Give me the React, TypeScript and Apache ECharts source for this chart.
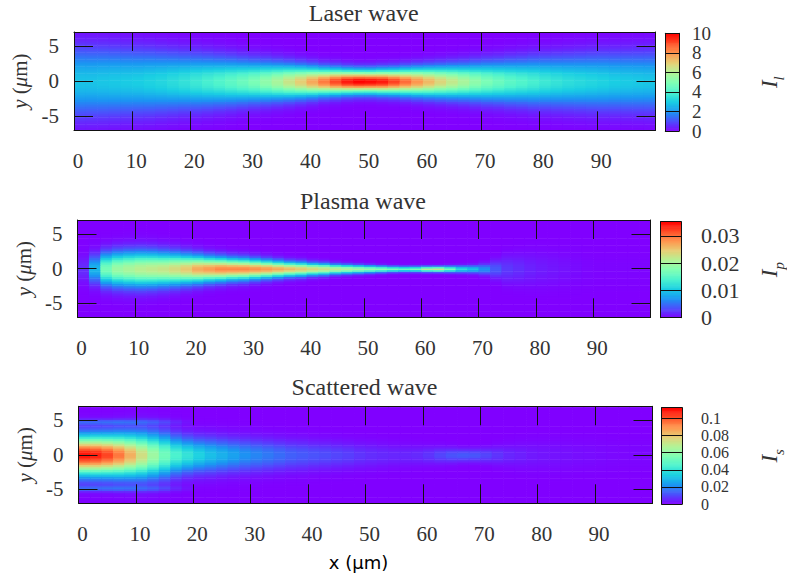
import React, { useEffect, useRef } from "react";
import * as echarts from "echarts";

// ---------- data ----------
const COL_W = 2; // μm width of one sampled column (columns start at 0, 2, 4, ... 98)
const ROW_H = 0.25; // μm height of one row
const ROW_HALF = 28; // rows at y = -7 ... 7

const titles = ["Laser wave", "Plasma wave", "Scattered wave"];
const xTickLabels = [0, 10, 20, 30, 40, 50, 60, 70, 80, 90];
const yTickValues = [-5, 0, 5];

// laser intensity on axis and 1/e half width (μm), per column
const laserPeak = [
  2.8, 2.8, 2.85, 2.9, 2.95, 3.0, 3.1, 3.2, 3.35, 3.5,
  3.7, 3.9, 4.1, 4.35, 4.6, 4.9, 5.3, 5.8, 6.4, 7.0,
  7.7, 8.4, 9.1, 9.7, 10.0, 9.9, 9.7, 9.2, 8.6, 8.0,
  7.4, 6.8, 6.3, 5.8, 5.3, 4.9, 4.6, 4.3, 4.1, 3.9,
  3.7, 3.55, 3.4, 3.3, 3.2, 3.1, 3.0, 2.95, 2.9, 2.85,
];
const laserRadius = [
  4.5, 4.45, 4.4, 4.3, 4.2, 4.1, 4.0, 3.85, 3.7, 3.55,
  3.4, 3.25, 3.1, 2.95, 2.8, 2.65, 2.5, 2.35, 2.2, 2.05,
  1.9, 1.75, 1.65, 1.55, 1.5, 1.5, 1.55, 1.6, 1.7, 1.8,
  1.9, 2.0, 2.1, 2.2, 2.35, 2.5, 2.6, 2.75, 2.85, 3.0,
  3.1, 3.2, 3.3, 3.4, 3.5, 3.6, 3.65, 3.7, 3.75, 3.8,
];

// plasma wave
const plasmaPeak = [
  0.002, 0.009, 0.017, 0.0195, 0.0205, 0.0215, 0.022, 0.0225, 0.0235, 0.025,
  0.027, 0.028, 0.029, 0.029, 0.029, 0.0285, 0.028, 0.027, 0.026, 0.025,
  0.024, 0.023, 0.022, 0.021, 0.02, 0.019, 0.018, 0.017, 0.016, 0.017,
  0.021, 0.022, 0.017, 0.012, 0.01, 0.007, 0.004, 0.0025, 0.002, 0.0015,
  0.0012, 0.001, 0.0008, 0.0005, 0.0003, 0.0002, 0.0002, 0.0002, 0.0002, 0.0002,
];
const plasmaRadius = [
  1.8, 1.9, 2.15, 2.25, 2.3, 2.3, 2.25, 2.15, 2.05, 1.9,
  1.75, 1.6, 1.5, 1.4, 1.35, 1.25, 1.15, 1.05, 0.95, 0.9,
  0.8, 0.75, 0.65, 0.6, 0.55, 0.5, 0.45, 0.4, 0.38, 0.38,
  0.38, 0.38, 0.42, 0.47, 0.52, 0.7, 1.2, 1.8, 2.0, 2.2,
  2.3, 2.3, 2.3, 2.3, 2.3, 2.3, 2.3, 2.3, 2.3, 2.3,
];

// scattered wave
const scatterPeak = [
  0.11, 0.108, 0.103, 0.095, 0.085, 0.074, 0.063, 0.053, 0.045, 0.04,
  0.035, 0.031, 0.028, 0.025, 0.022, 0.02, 0.018, 0.016, 0.014, 0.013,
  0.012, 0.011, 0.01, 0.009, 0.0075, 0.0065, 0.006, 0.0055, 0.0055, 0.006,
  0.0075, 0.01, 0.012, 0.013, 0.0125, 0.01, 0.0075, 0.0055, 0.0045, 0.0035,
  0.003, 0.0027, 0.0024, 0.002, 0.0018, 0.0015, 0.0012, 0.001, 0.001, 0.001,
];
const scatterRadius = [
  2.6, 2.65, 2.7, 2.8, 2.9, 3.0, 3.0, 2.9, 2.6, 2.4,
  2.3, 2.3, 2.25, 2.2, 2.2, 2.15, 2.1, 2.05, 2.0, 2.0,
  1.9, 1.85, 1.8, 1.75, 1.7, 1.7, 1.6, 1.5, 1.4, 1.3,
  1.2, 1.1, 1.0, 0.9, 0.9, 1.0, 1.2, 1.4, 1.6, 1.8,
  1.9, 2.0, 2.0, 2.0, 2.0, 2.0, 2.0, 2.0, 2.0, 2.0,
];
// faint side lobes of the scattered wave at |y| = LOBE_Y
const scatterLobe = [
  0.012, 0.012, 0.012, 0.012, 0.011, 0.01, 0.009, 0.007, 0.004, 0.002,
  0, 0, 0, 0, 0, 0, 0, 0, 0, 0,
  0, 0, 0, 0, 0, 0, 0, 0, 0, 0,
  0, 0, 0, 0, 0, 0, 0, 0, 0, 0,
  0, 0, 0, 0, 0, 0, 0, 0, 0, 0,
];
const LOBE_Y = 4.8;
const LOBE_R = 0.4;

// colour bars
const laserMax = 10;
const plasmaMax = 0.0352;
const scatterMax = 0.1125;
const laserTicks = [0, 2, 4, 6, 8, 10];
const plasmaTicks = [0, 0.01, 0.02, 0.03];
const scatterTicks = [0, 0.02, 0.04, 0.06, 0.08, 0.1];
const cbNames = ["l", "p", "s"];

// matplotlib "rainbow"
const rainbow = [
  "#8000ff", "#4d4ffc", "#1a96f2", "#1acee3", "#4df3ce", "#80ffb4",
  "#b3f396", "#e6ce74", "#ff964f", "#ff4f28", "#ff0000",
];

// ---------- helpers ----------
function buildField(peak: number[], radius: number[], lobe?: number[]) {
  const cells: number[][] = [];
  peak.forEach((a, i) => {
    const x0 = i * COL_W;
    const r = radius[i];
    for (let k = -ROW_HALF; k <= ROW_HALF; k++) {
      const y = k * ROW_H;
      let v = a * Math.exp(-((y / r) ** 2));
      if (lobe) v += lobe[i] * Math.exp(-(((Math.abs(y) - LOBE_Y) / LOBE_R) ** 2));
      cells.push([x0, y, v]);
    }
  });
  return cells;
}

const CB_STEPS = 200;
function buildBar(max: number) {
  const out: number[][] = [];
  for (let i = 0; i < CB_STEPS; i++) {
    const lo = (i * max) / CB_STEPS;
    out.push([0, lo, lo + max / CB_STEPS / 2]);
  }
  return out;
}

const SERIF = "Liberation Serif";
const SANS = "DejaVu Sans";
const TXT = "#333";
const LINE = "#111";

const renderCell = (_p: any, api: any) => {
  const x0 = api.value(0);
  const yc = api.value(1);
  const a = api.coord([x0, yc + ROW_H / 2]);
  const b = api.coord([x0 + COL_W, yc - ROW_H / 2]);
  return {
    type: "rect",
    shape: { x: a[0], y: a[1], width: b[0] - a[0] + 0.6, height: b[1] - a[1] + 0.6 },
    style: { fill: api.visual("color") },
  };
};

const makeBarRender = (max: number) => (_p: any, api: any) => {
  const lo = api.value(1);
  const a = api.coord([0, lo + max / CB_STEPS]);
  const b = api.coord([1, lo]);
  return {
    type: "rect",
    shape: { x: a[0], y: a[1] - 0.3, width: b[0] - a[0], height: b[1] - a[1] + 0.6 },
    style: { fill: api.visual("color") },
  };
};

function buildOption() {
  const fields = [
    buildField(laserPeak, laserRadius),
    buildField(plasmaPeak, plasmaRadius),
    buildField(scatterPeak, scatterRadius, scatterLobe),
  ];
  const maxes = [laserMax, plasmaMax, scatterMax];
  const ticks = [laserTicks, plasmaTicks, scatterTicks];
  const intervals = [2, 0.01, 0.02];

  const mainGrids = [
    { left: 74, top: 32, width: 581.5, height: 98.3 },
    { left: 77.5, top: 220, width: 573, height: 97.3 },
    { left: 78.5, top: 406.3, width: 574, height: 97 },
  ];
  const cbGrids = [
    { left: 665.3, top: 33.3, width: 26, height: 97.7 },
    { left: 660.7, top: 221.7, width: 25.3, height: 96 },
    { left: 661.7, top: 407.7, width: 25, height: 96.3 },
  ];
  const cbLabelMargin = [13, 20, 19];
  const cbLabelSize = [19, 22, 16];
  const cbLabelLineHeight = [19, 22, 16];
  const cbNameGap = [79, 77, 76];
  const titleTops = [1, 189, 375];

  const grids: any[] = [...mainGrids, ...cbGrids];
  const xAxis: any[] = [];
  const yAxis: any[] = [];
  const series: any[] = [];
  const visualMap: any[] = [];

  const line = { show: true, onZero: false, lineStyle: { color: LINE, width: 1 } };
  const tick = (vals?: number[]) => ({
    show: true,
    inside: true,
    length: 19,
    lineStyle: { color: LINE, width: 1 },
    ...(vals ? { customValues: vals } : {}),
  });

  for (let p = 0; p < 3; p++) {
    xAxis.push({
      type: "value", gridIndex: p, position: "bottom", min: 0, max: 100, interval: 10, z: 10,
      axisLine: line, axisTick: tick(), splitLine: { show: false },
      axisLabel: {
        customValues: xTickLabels, fontFamily: SERIF, fontSize: 21, color: TXT,
        margin: 20, padding: [0, 0, 0, 8], showMinLabel: true,
      },
      ...(p === 2
        ? {
            name: "x (μm)", nameLocation: "middle", nameGap: 50,
            nameTextStyle: { fontFamily: SANS, fontSize: 18, color: "#000", padding: [0, 14, 0, 0] },
          }
        : {}),
    });
    xAxis.push({
      type: "value", gridIndex: p, position: "top", min: 0, max: 100, interval: 10, z: 10,
      axisLine: line, axisTick: tick(), splitLine: { show: false }, axisLabel: { show: false },
    });
    yAxis.push({
      type: "value", gridIndex: p, position: "left", min: -7, max: 7, z: 10,
      axisLine: line, axisTick: tick(yTickValues), splitLine: { show: false },
      axisLabel: { customValues: yTickValues, fontFamily: SERIF, fontSize: 21, color: TXT, margin: 15 },
      name: "{it|y} ({it|μ}m)", nameLocation: "middle", nameGap: 39, nameRotate: 90,
      nameTextStyle: {
        fontFamily: SERIF, fontSize: 21, color: TXT,
        rich: { it: { fontFamily: SERIF, fontSize: 21, fontStyle: "italic", color: TXT } },
      },
    });
    yAxis.push({
      type: "value", gridIndex: p, position: "right", min: -7, max: 7, z: 10,
      axisLine: line, axisTick: tick(yTickValues), splitLine: { show: false }, axisLabel: { show: false },
    });
  }
  // colour bars: y axes per bar = left border, right axis (even labels), right axis (odd labels)
  for (let p = 0; p < 3; p++) {
    const g = 3 + p;
    const evenLabels = ticks[p].filter((_, i) => i % 2 === 0);
    const oddLabels = ticks[p].filter((_, i) => i % 2 === 1);
    const labelStyle = {
      fontFamily: SERIF, fontSize: cbLabelSize[p], lineHeight: cbLabelLineHeight[p], color: TXT,
      margin: cbLabelMargin[p], showMinLabel: true, showMaxLabel: true,
    };
    xAxis.push({
      type: "value", gridIndex: g, position: "bottom", min: 0, max: 1, z: 10,
      axisLine: line, axisTick: { show: false }, axisLabel: { show: false }, splitLine: { show: false },
    });
    xAxis.push({
      type: "value", gridIndex: g, position: "top", min: 0, max: 1, z: 10,
      axisLine: line, axisTick: { show: false }, axisLabel: { show: false }, splitLine: { show: false },
    });
    yAxis.push({
      type: "value", gridIndex: g, position: "left", min: 0, max: maxes[p], interval: intervals[p], z: 10,
      axisLine: line, axisTick: { show: false }, axisLabel: { show: false }, splitLine: { show: false },
    });
    yAxis.push({
      type: "value", gridIndex: g, position: "right", min: 0, max: maxes[p], interval: intervals[p], z: 10,
      axisLine: line, axisTick: { show: false },
      splitLine: { show: true, lineStyle: { color: LINE, width: 1 } },
      axisLabel: { ...labelStyle, customValues: evenLabels },
      name: `{it|I}{sub|${cbNames[p]}}`, nameLocation: "middle", nameGap: cbNameGap[p], nameRotate: 90,
      nameTextStyle: {
        fontFamily: SERIF, fontSize: 22, color: TXT,
        rich: {
          it: { fontFamily: SERIF, fontSize: 23, fontStyle: "italic", color: TXT, lineHeight: 28, verticalAlign: "top" },
          sub: { fontFamily: SERIF, fontSize: 15, fontStyle: "italic", color: TXT, lineHeight: 15, verticalAlign: "bottom" },
        },
      },
    });
    yAxis.push({
      type: "value", gridIndex: g, position: "right", min: 0, max: maxes[p], interval: intervals[p], z: 10,
      axisLine: { show: false, onZero: false }, axisTick: { show: false }, splitLine: { show: false },
      axisLabel: { ...labelStyle, customValues: oddLabels },
    });
  }

  for (let p = 0; p < 3; p++) {
    series.push({
      type: "custom", xAxisIndex: 2 * p, yAxisIndex: 2 * p, data: fields[p],
      encode: { x: 0, y: 1 }, clip: true, silent: true, renderItem: renderCell, z: 1,
    });
  }
  for (let p = 0; p < 3; p++) {
    series.push({
      type: "custom", xAxisIndex: 6 + 2 * p, yAxisIndex: 7 + 3 * p, data: buildBar(maxes[p]),
      encode: { x: 0, y: 1 }, clip: true, silent: true, renderItem: makeBarRender(maxes[p]), z: 1,
    });
    visualMap.push({
      type: "continuous", show: false, min: 0, max: maxes[p], dimension: 2,
      seriesIndex: [p, 3 + p], inRange: { color: rainbow },
    });
  }

  const title = titles.map((t, i) => ({
    text: t,
    left: mainGrids[i].left + mainGrids[i].width / 2 - 1,
    top: titleTops[i],
    padding: 0,
    textAlign: "center",
    textStyle: { fontFamily: SERIF, fontSize: 24, fontWeight: "normal", color: TXT },
  }));

  return {
    animation: false,
    backgroundColor: "#ffffff",
    title,
    grid: grids,
    xAxis,
    yAxis,
    visualMap,
    series,
  };
}

export default function App() {
  const ref = useRef<HTMLDivElement>(null);
  useEffect(() => {
    document.body.style.margin = "0";
    const chart = echarts.init(ref.current!, null, { renderer: "svg" });
    chart.setOption(buildOption() as any);
    return () => chart.dispose();
  }, []);
  return <div ref={ref} style={{ width: 787, height: 579 }} />;
}
